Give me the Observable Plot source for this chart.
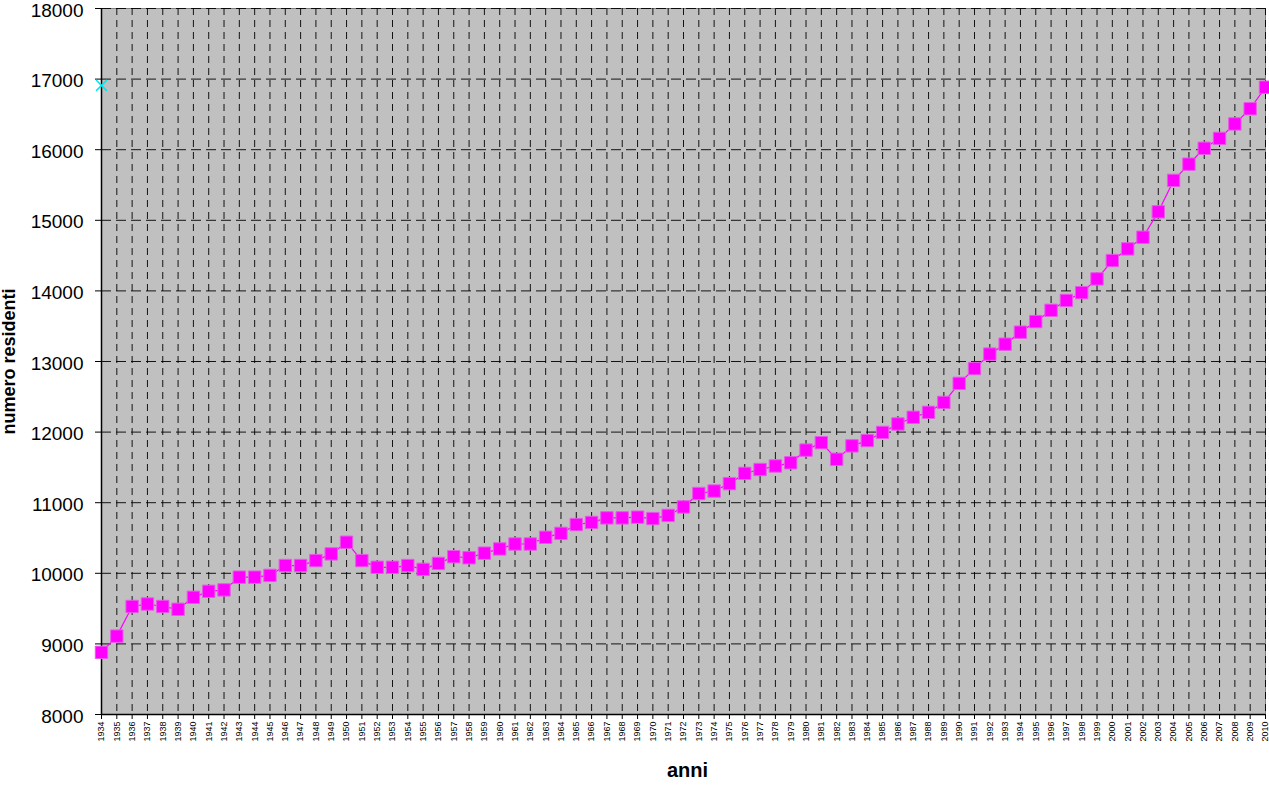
<!DOCTYPE html>
<html>
<head>
<meta charset="utf-8">
<script src="https://cdn.jsdelivr.net/npm/d3@7"></script>
<script src="https://cdn.jsdelivr.net/npm/@observablehq/plot@0.6"></script>
<style>
  html, body { margin: 0; padding: 0; background: #fff; }
  #chart svg { display: block; }
</style>
</head>
<body>
<div id="chart"></div>
<script>
const years = d3.range(1934, 2011);
const residents = [
  8880, 9110, 9530, 9565, 9530, 9490, 9660, 9745, 9765, 9945,
  9945, 9970, 10110, 10110, 10180, 10275, 10440, 10180, 10085, 10085,
  10110, 10055, 10140, 10235, 10220, 10285, 10345, 10415, 10415, 10510,
  10565, 10690, 10720, 10785, 10785, 10795, 10775, 10820, 10940, 11130,
  11165, 11270, 11415, 11470, 11520, 11565, 11745, 11850, 11615, 11805,
  11880, 11995, 12115, 12210, 12280, 12420, 12690, 12900, 13105, 13245,
  13415, 13565, 13725, 13865, 13975, 14170, 14430, 14595, 14760, 15120,
  15565, 15795, 16020, 16160, 16365, 16580, 16885
];
const extraYears = [1934];
const extraValues = [16910];
const yTicks = d3.range(8000, 18001, 1000);

const data = years.map((y, i) => ({year: y, value: residents[i]}));
const extra = extraYears.map((y, i) => ({year: y, value: extraValues[i]}));

const chart = Plot.plot({
  width: 1269,
  height: 787,
  marginLeft: 101,
  marginRight: 4,
  marginTop: 8,
  marginBottom: 73,
  style: {fontFamily: "'Liberation Sans', Arial, sans-serif", background: "#fff", color: "#000"},
  x: {type: "linear", domain: [1934, 2010]},
  y: {domain: [8000, 18000]},
  marks: [
    Plot.frame({fill: "#C0C0C0", stroke: "#808080"}),
    Plot.gridX(years, {stroke: "#000", strokeOpacity: 0.9, strokeDasharray: "7,5"}),
    Plot.gridY(yTicks, {stroke: "#000", strokeOpacity: 0.9, strokeDasharray: "10,5"}),
    Plot.ruleX([1934], {stroke: "#000", strokeWidth: 1.5}),
    Plot.ruleY([8000], {stroke: "#000", strokeWidth: 1.5}),
    Plot.axisY({ticks: yTicks, tickFormat: () => "", tickSize: 6, label: null}),
    Plot.axisY({ticks: yTicks, tickFormat: d => String(d), tickSize: 0, tickPadding: 18, fontSize: 19, dy: 2, label: null}),
    Plot.axisX({ticks: years, tickFormat: d => String(d), tickRotate: -90, tickSize: 5, tickPadding: 2, fontSize: 9, label: null}),
    Plot.line(data, {x: "year", y: "value", stroke: "#FF00FF", strokeWidth: 1.2}),
    Plot.dot(data, {x: "year", y: "value", symbol: "square", r: 7, fill: "#FF00FF", stroke: "#E85AE8", strokeWidth: 1}),
    Plot.dot(extra, {x: "year", y: "value", symbol: "times", r: 5, stroke: "#00E5EE", strokeWidth: 1.5}),
    Plot.text(["numero residenti"], {frameAnchor: "left", dx: -92, rotate: -90, text: d => d, fontSize: 18, fontWeight: "bold", textAnchor: "middle"}),
    Plot.text(["anni"], {frameAnchor: "bottom", dy: 62, dx: 4, text: d => d, fontSize: 20, fontWeight: "bold", textAnchor: "middle"})
  ]
});
document.getElementById("chart").appendChild(chart);
</script>
</body>
</html>
